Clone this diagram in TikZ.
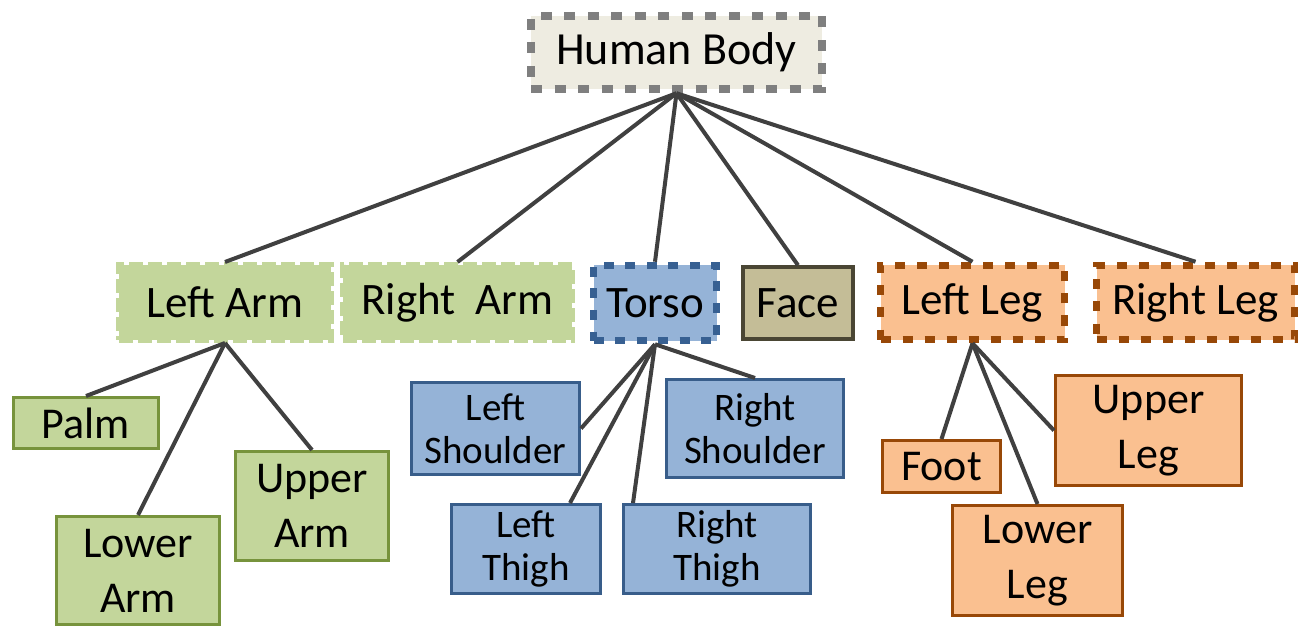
\documentclass[tikz,border=0pt]{standalone}
\usepackage{fontspec}
\setmainfont{Carlito}
\begin{document}
\begin{tikzpicture}[x=1pt,y=-1pt,
  box/.style={rectangle,inner sep=0pt,align=center,text=black},
  big/.style={font=\fontsize{45}{50}\selectfont},
  mid/.style={font=\fontsize{44}{55}\selectfont},
  small/.style={font=\fontsize{39}{43}\selectfont},
  rootbox/.style={box,fill=rootfill,draw=rootline,line width=8.5pt,dash pattern=on 11pt off 12.5pt,font=\fontsize{46}{52}\selectfont},
  armbox/.style={box,big,fill=armfill,draw=armfill,line width=6pt,dash pattern=on 14pt off 5pt},
  torsobox/.style={box,big,fill=bluefill,draw=blueline,line width=7.5pt,dash pattern=on 10pt off 11.5pt},
  legbox/.style={box,big,fill=orangefill,draw=orangeline,line width=7.5pt,dash pattern=on 10pt off 12pt},
  facebox/.style={box,big,fill=facefill,draw=faceline,line width=3.5pt},
  armpart/.style={box,mid,fill=armfill,draw=armline,line width=3pt},
  torsopart/.style={box,small,fill=bluefill,draw=bluepart,line width=3pt},
  legpart/.style={box,mid,fill=orangefill,draw=orangeline,line width=3pt},
  link/.style={draw=linkgray,line width=4pt}]
\definecolor{rootfill}{HTML}{EEECE1}
\definecolor{rootline}{HTML}{7F7F7F}
\definecolor{armfill}{HTML}{C3D69B}
\definecolor{armline}{HTML}{77933C}
\definecolor{bluefill}{HTML}{95B3D7}
\definecolor{blueline}{HTML}{376092}
\definecolor{bluepart}{HTML}{385D8A}
\definecolor{facefill}{HTML}{C4BD97}
\definecolor{faceline}{HTML}{4A4634}
\definecolor{orangefill}{HTML}{FAC090}
\definecolor{orangeline}{HTML}{984807}
\definecolor{linkgray}{HTML}{404040}
\useasboundingbox (0,0) rectangle (1301,628);

% root
\node[rootbox,minimum width=291pt,minimum height=73pt] (hb) at (676.5,52.5) {Human Body};

% first level
\node[armbox,minimum width=212pt,minimum height=75pt] (la) at (225,302.5) {Left Arm};
\node[armbox,minimum width=229pt,minimum height=75pt] (ra) at (457.5,302.5) {Right\ \ Arm};
\node[torsobox,minimum width=123pt,minimum height=75pt] (to) at (655,303) {Torso};
\node[facebox,minimum width=110pt,minimum height=72pt] (fa) at (798,303) {Face};
\node[legbox,minimum width=184pt,minimum height=74pt] (ll) at (972.5,302.5) {Left Leg};
\node[legbox,minimum width=198pt,minimum height=74pt] (rl) at (1195.5,302.5) {Right Leg};

% arm parts
\node[armpart,minimum width=145pt,minimum height=51pt] (palm) at (86,423) {Palm};
\node[armpart,minimum width=163pt,minimum height=108pt] (lowarm) at (138,570.5) {Lower\\Arm};
\node[armpart,minimum width=153pt,minimum height=109pt] (uparm) at (312,506) {Upper\\Arm};

% torso parts
\node[torsopart,minimum width=168pt,minimum height=92pt] (lsh) at (495.5,428.5) {Left\\Shoulder};
\node[torsopart,minimum width=177pt,minimum height=98pt] (rsh) at (755,428.5) {Right\\Shoulder};
\node[torsopart,minimum width=149pt,minimum height=89pt] (lth) at (526,549) {Left\\Thigh};
\node[torsopart,minimum width=187pt,minimum height=89pt] (rth) at (717,549) {Right\\Thigh};

% leg parts
\node[legpart,minimum width=118pt,minimum height=52pt] (foot) at (941.5,466.5) {Foot};
\node[legpart,minimum width=186pt,minimum height=110pt] (upleg) at (1148.5,430.5) {Upper\\Leg};
\node[legpart,minimum width=170pt,minimum height=110pt] (lowleg) at (1037.5,560.5) {Lower\\Leg};

% links from the root
\foreach \c in {la,ra,to,fa,ll,rl}
  \draw[link] (hb.south) -- (\c.north);

% links below the arm
\draw[link] (la.south) -- (palm.north);
\draw[link] (la.south) -- (lowarm.north);
\draw[link] (la.south) -- (uparm.north);

% links below the torso
\draw[link] (to.south) -- (lsh.east);
\draw[link] (to.south) -- ([xshift=44pt]lth.north);
\draw[link] (to.south) -- ([xshift=-84pt]rth.north);
\draw[link] (to.south) -- (rsh.north);

% links below the leg
\draw[link] (ll.south) -- (foot.north);
\draw[link] (ll.south) -- (lowleg.north);
\draw[link] (ll.south) -- (upleg.west);
\end{tikzpicture}
\end{document}
